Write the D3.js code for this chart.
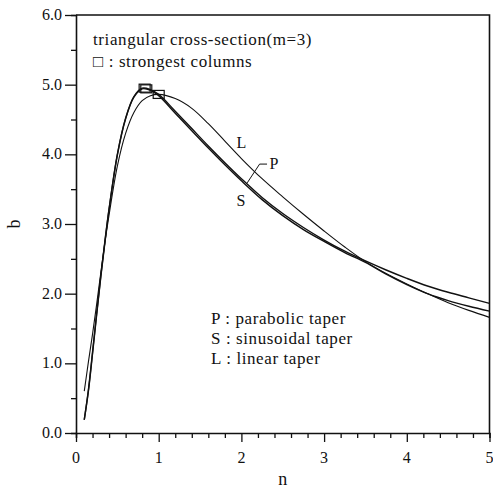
<!DOCTYPE html>
<html>
<head>
<meta charset="utf-8">
<script src="https://cdn.jsdelivr.net/npm/d3@7"></script>
<style>
  body { margin: 0; background: #fff; }
  text { font-family: "Liberation Serif", "Times New Roman", serif; fill: #111; }
  .note { font-size: 17px; letter-spacing: 0.6px; }
</style>
</head>
<body>
<div id="chart"></div>
<script>
// slenderness n vs buckling parameter b
var nVals   = [0.1, 0.15, 0.2, 0.25, 0.3, 0.35, 0.4, 0.5, 0.6, 0.7, 0.8, 0.9, 1.0, 1.2, 1.4, 1.6, 1.8, 2.0, 2.25, 2.5, 2.75, 3.0, 3.25, 3.5, 3.75, 4.0, 4.25, 4.5, 4.75, 5.0];
var parabolic  = [0.19, 0.62, 1.16, 1.72, 2.26, 2.76, 3.22, 4.0, 4.52, 4.83, 4.95, 4.93, 4.86, 4.62, 4.37, 4.12, 3.88, 3.65, 3.38, 3.15, 2.95, 2.77, 2.61, 2.47, 2.34, 2.22, 2.11, 2.02, 1.94, 1.86];
var sinusoidal = [0.19, 0.6, 1.14, 1.7, 2.24, 2.74, 3.21, 3.99, 4.51, 4.82, 4.94, 4.92, 4.84, 4.59, 4.34, 4.09, 3.85, 3.62, 3.35, 3.12, 2.92, 2.75, 2.59, 2.45, 2.28, 2.13, 2.0, 1.9, 1.82, 1.75];
var linear     = [0.6, 1.02, 1.42, 1.85, 2.3, 2.74, 3.13, 3.83, 4.3, 4.6, 4.77, 4.84, 4.86, 4.8, 4.66, 4.44, 4.19, 3.94, 3.65, 3.39, 3.14, 2.9, 2.67, 2.46, 2.29, 2.14, 2.0, 1.87, 1.76, 1.66];
var peaks = [{n: 0.83, b: 4.95}, {n: 0.85, b: 4.94}, {n: 1.0, b: 4.86}];
var xTicks = [0, 1, 2, 3, 4, 5];
var yTicks = [0, 1, 2, 3, 4, 5, 6];
var legendLines = ["P : parabolic taper", "S : sinusoidal taper", "L : linear taper"];

var W = 493, H = 490;
var margin = {top: 15, right: 3, bottom: 57, left: 76};
var width = W - margin.left - margin.right;
var height = H - margin.top - margin.bottom;

var svg = d3.select("#chart").append("svg")
    .attr("width", W).attr("height", H)
    .append("g")
    .attr("transform", "translate(" + margin.left + "," + margin.top + ")");

var x = d3.scaleLinear().domain([0, 5]).range([0, width - 0.5]);
var y = d3.scaleLinear().domain([0, 6]).range([height, 0]);

// frame (top & right)
svg.append("path")
   .attr("d", "M0,0H" + x(5) + "V" + height)
   .attr("fill", "none").attr("stroke", "#111").attr("stroke-width", 1.6);

// x axis
var xAxis = svg.append("g").attr("transform", "translate(0," + height + ")");
xAxis.call(d3.axisBottom(x).tickValues(d3.range(0, 5.01, 0.2)).tickSize(5).tickFormat(""));
xAxis.call(function(g) {
  g.selectAll(".tick").filter(function(d) { return Math.abs(d - Math.round(d)) < 1e-6; })
   .select("line").attr("y2", 9);
});
xAxis.selectAll("text").remove();
xAxis.selectAll(".lbl").data(xTicks).enter().append("text")
   .attr("x", function(d) { return x(d); }).attr("y", 30)
   .attr("text-anchor", "middle").style("font-size", "16px").text(function(d) { return d; });

// y axis
var yAxis = svg.append("g");
yAxis.call(d3.axisLeft(y).tickValues(d3.range(0, 6.01, 0.5)).tickSize(5).tickFormat(""));
yAxis.call(function(g) {
  g.selectAll(".tick").filter(function(d) { return Math.abs(d - Math.round(d)) < 1e-6; })
   .select("line").attr("x2", -11);
});
yAxis.selectAll(".lbl").data(yTicks).enter().append("text")
   .attr("x", -14).attr("y", function(d) { return y(d) + 5; })
   .attr("text-anchor", "end").style("font-size", "16px").text(function(d) { return d.toFixed(1); });

[xAxis, yAxis].forEach(function(g) {
  g.selectAll("path.domain").attr("stroke", "#111").attr("stroke-width", 1.6);
  g.selectAll("line").attr("stroke", "#111").attr("stroke-width", 1.3);
});

// axis titles
svg.append("text").attr("x", x(2.5)).attr("y", height + 52)
   .attr("text-anchor", "middle").style("font-size", "18px").text("n");
svg.append("text").attr("transform", "translate(" + (-56) + "," + y(3) + ") rotate(-90)")
   .attr("text-anchor", "middle").style("font-size", "18px").text("b");

// curves
var line = d3.line()
    .curve(d3.curveCatmullRom.alpha(0.5))
    .x(function(d) { return x(d[0]); })
    .y(function(d) { return y(d[1]); });

[[linear, 1.1], [sinusoidal, 1.4], [parabolic, 1.4]].forEach(function(s) {
  svg.append("path")
     .datum(d3.zip(nVals, s[0]))
     .attr("fill", "none").attr("stroke", "#111")
     .attr("stroke-width", s[1])
     .attr("d", line);
});

// strongest columns
svg.selectAll(".peak").data(peaks).enter().append("rect")
   .attr("x", function(d) { return x(d.n) - 5.5; })
   .attr("y", function(d) { return y(d.b) - 4; })
   .attr("width", 11).attr("height", 8)
   .attr("fill", "none").attr("stroke", "#111").attr("stroke-width", 1.2);

// curve labels
svg.append("text").attr("x", x(1.94)).attr("y", y(4.09)).style("font-size", "16px").text("L");
svg.append("text").attr("x", x(2.34)).attr("y", y(3.79)).style("font-size", "16px").text("P");
svg.append("text").attr("x", x(1.94)).attr("y", y(3.26)).style("font-size", "16px").text("S");
svg.append("path")
   .datum([[2.31, 3.86], [2.22, 3.86], [2.07, 3.59]])
   .attr("fill", "none").attr("stroke", "#111").attr("stroke-width", 1)
   .attr("d", d3.line().x(function(d) { return x(d[0]); }).y(function(d) { return y(d[1]); }));

// header notes
svg.append("text").attr("class", "note").attr("x", 17).attr("y", 30)
   .text("triangular cross-section(m=3)");
svg.append("text").attr("class", "note").attr("x", 17).attr("y", 52)
   .text("\u25A1 : strongest columns");

// legend
svg.selectAll(".leg").data(legendLines).enter().append("text")
   .attr("class", "note")
   .attr("x", 135).attr("y", function(d, i) { return 309 + i * 20; })
   .text(function(d) { return d; });
</script>
</body>
</html>
